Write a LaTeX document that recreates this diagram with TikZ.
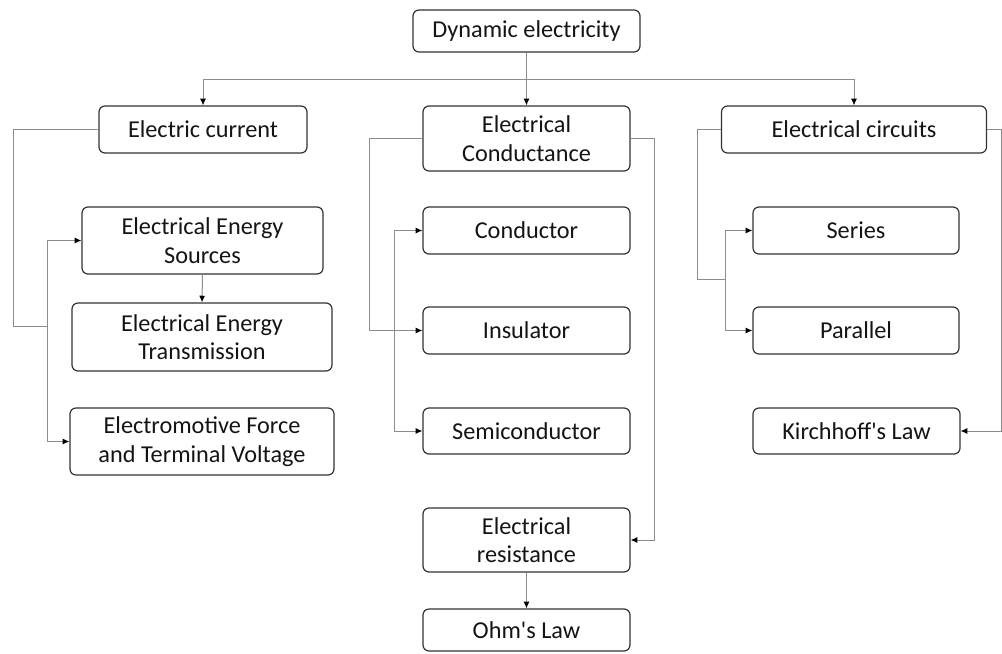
\documentclass[tikz,border=0pt]{standalone}
\usepackage{fontspec}
\setmainfont{Carlito}[Ligatures=TeXOff]
\usetikzlibrary{arrows.meta}
\begin{document}
\begin{tikzpicture}[x=0.75pt,y=-0.75pt,
  box/.style={draw=black!80, line width=0.9pt, rounded corners=4.5pt, align=center,
    inner sep=0pt, font=\fontsize{18.2}{21.5}\selectfont, text=black!92},
  sz/.style 2 args={minimum width=#1*0.75pt, minimum height=#2*0.75pt},
  conn/.style={draw=black!45, line width=0.75pt},
  arr/.style={conn, -{Latex[length=5pt,width=4.5pt,color=black]}}]
\useasboundingbox (0,0) rectangle (1002,653);

% nodes
\node[box, sz={227}{42}] (dyn) at (526.5,31) {Dynamic electricity};
\node[box, sz={208}{47}] (cur) at (203,129.5) {Electric current};
\node[box, sz={207}{65}] (cond) at (526.5,138.5) {Electrical\\Conductance};
\node[box, sz={265}{47}] (circ) at (854,129.5) {Electrical circuits};

\node[box, sz={241}{67}] (src) at (202.5,240.5) {Electrical Energy\\Sources};
\node[box, sz={260}{68}] (trans) at (202,337) {Electrical Energy\\Transmission};
\node[box, sz={264}{67}] (emf) at (202,441.5) {Electromotive Force\\and Terminal Voltage};

\node[box, sz={207}{47}] (cndr) at (526.5,230.5) {Conductor};
\node[box, sz={207}{47}] (ins) at (526.5,330.5) {Insulator};
\node[box, sz={207}{46}] (semi) at (526.5,431) {Semiconductor};
\node[box, sz={207}{64}] (res) at (526.5,540) {Electrical\\resistance};
\node[box, sz={207}{42}] (ohm) at (526.5,630) {Ohm's Law};

\node[box, sz={206}{47}] (ser) at (856,230.5) {Series};
\node[box, sz={206}{47}] (par) at (856,330.5) {Parallel};
\node[box, sz={207}{46}] (kir) at (856.5,431) {Kirchhoff's Law};

% top distribution
\coordinate (hl) at (203,79);
\coordinate (hr) at (854,79);
\draw[conn] (hl) -- (hr);
\draw[arr] (dyn.south) -- (cond.north);
\draw[arr] (hl) -- (cur.north);
\draw[arr] (hr) -- (circ.north);

% electric current branch
\coordinate (c1) at (13,326);
\coordinate (j1) at (47,326);
\draw[conn] (cur.west) -| (c1) -- (j1);
\draw[arr] (j1) |- (src.west);
\draw[arr] (j1) |- (emf.west);
\draw[arr] (src.south) -- (trans.north);

% conductance branch
\coordinate (k1) at (369,330.5);
\coordinate (k2) at (394,330.5);
\draw[arr] (cond.west) -| (k1) -- (ins.west);
\draw[arr] (k2) |- (cndr.west);
\draw[arr] (k2) |- (semi.west);
\coordinate (k3) at (654,540);
\draw[arr] (cond.east) -| (k3) -- (res.east);
\draw[arr] (res.south) -- (ohm.north);

% circuits branch
\coordinate (m1) at (697,279);
\coordinate (m2) at (725,279);
\draw[conn] (circ.west) -| (m1) -- (m2);
\draw[arr] (m2) |- (ser.west);
\draw[arr] (m2) |- (par.west);
\coordinate (m3) at (1001,431);
\draw[arr] (circ.east) -| (m3) -- (kir.east);
\end{tikzpicture}
\end{document}
